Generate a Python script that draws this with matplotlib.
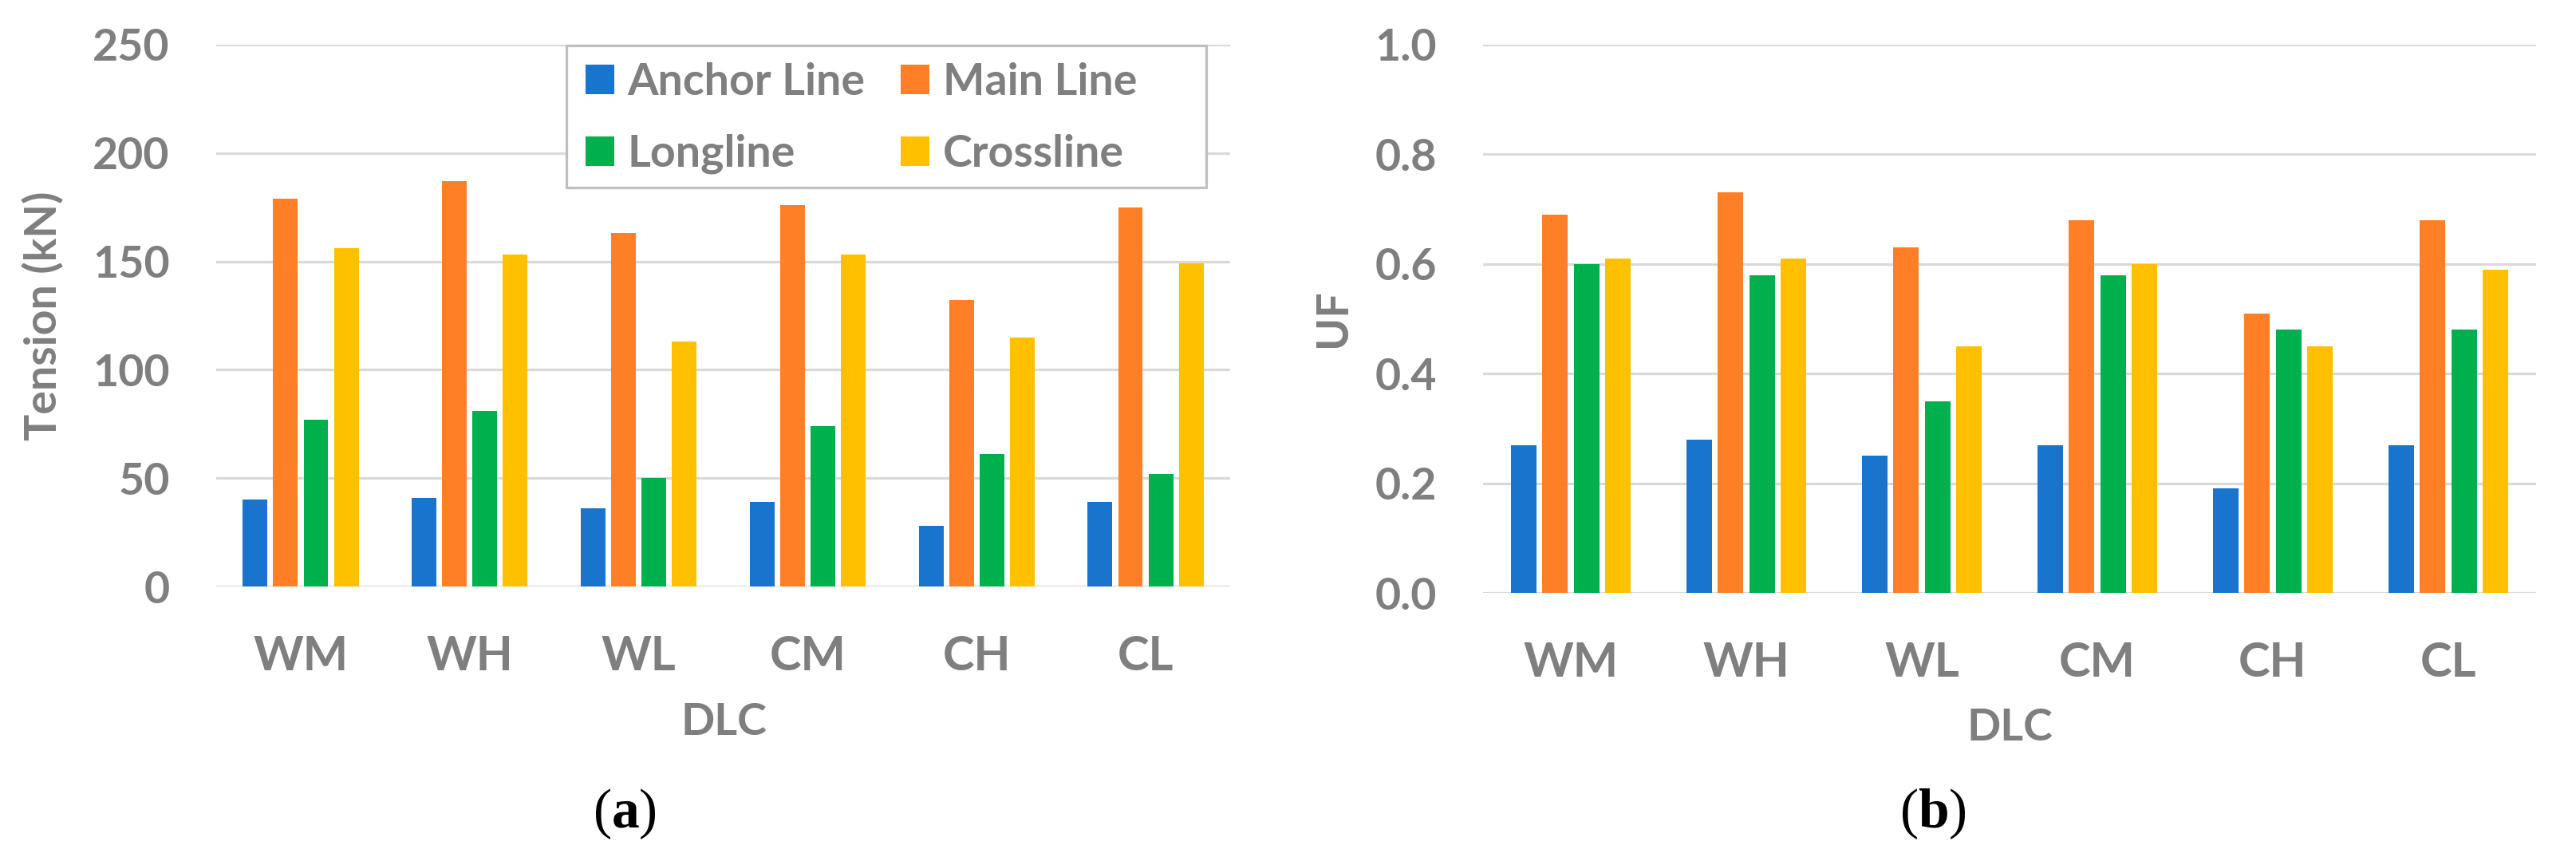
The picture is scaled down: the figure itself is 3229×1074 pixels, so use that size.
import numpy as np
import matplotlib
matplotlib.use("Agg")
import matplotlib.pyplot as plt
from matplotlib.patches import Rectangle

plt.rcParams['font.family'] = ['Lato', 'DejaVu Sans']
plt.rcParams['mathtext.fontset'] = 'custom'
plt.rcParams['mathtext.rm'] = 'Liberation Serif'
plt.rcParams['mathtext.bf'] = 'Liberation Serif:bold'

dlc = ["WM", "WH", "WL", "CM", "CH", "CL"]
series = ["Anchor Line", "Main Line", "Longline", "Crossline"]
colors = ["#1874CD", "#FF7F27", "#00B04C", "#FFC000"]

# tension (kN)
anchor_t = [40, 41, 36, 39, 28, 39]
main_t = [179, 187, 163, 176, 132, 175]
long_t = [77, 81, 50, 74, 61, 52]
cross_t = [156, 153, 113, 153, 115, 149]

# utilisation factor
anchor_uf = [0.27, 0.28, 0.25, 0.27, 0.19, 0.27]
main_uf = [0.69, 0.73, 0.63, 0.68, 0.51, 0.68]
long_uf = [0.60, 0.58, 0.35, 0.58, 0.48, 0.48]
cross_uf = [0.61, 0.61, 0.45, 0.60, 0.45, 0.59]

gray = "#7f7f7f"
W, H = 3230, 1074
fig = plt.figure(figsize=(W / 100, H / 100), dpi=100)

def box(x0, x1, y0, y1):
    return [x0 / W, 1 - y1 / H, (x1 - x0) / W, (y1 - y0) / H]

ax1 = fig.add_axes(box(271, 1542, 56, 735))
ax2 = fig.add_axes(box(1859, 3179, 56, 743))

x = np.arange(len(dlc))
step = 0.18
width = 0.146

def draw(ax, data, ymax, yticks, fmt):
    bars = []
    for i, (vals, c, name) in enumerate(zip(data, colors, series)):
        bars.append(ax.bar(x + (i - 1.5) * step, vals, width, color=c, label=name, zorder=3))
    ax.set_xlim(-0.5, len(dlc) - 0.5)
    ax.set_ylim(0, ymax)
    ax.set_yticks(yticks)
    ax.set_yticklabels([fmt.format(v) for v in yticks])
    ax.set_xticks(x)
    ax.set_xticklabels(dlc)
    for s in ax.spines.values():
        s.set_visible(False)
    ax.grid(axis='y', color='#d9d9d9', linewidth=2.3, zorder=0)
    ax.tick_params(axis='y', length=0, pad=42, labelsize=40, labelcolor=gray)
    ax.tick_params(axis='x', length=0, pad=44, labelsize=43, labelcolor=gray)
    for lab in ax.get_xticklabels() + ax.get_yticklabels():
        lab.set_fontweight('bold')
    return bars

bars = draw(ax1, [anchor_t, main_t, long_t, cross_t], 250, [0, 50, 100, 150, 200, 250], "{:.0f}")
draw(ax2, [anchor_uf, main_uf, long_uf, cross_uf], 1.0, [0, 0.2, 0.4, 0.6, 0.8, 1.0], "{:.1f}")

fig.text(54 / W, 1 - 396 / H, "Tension (kN)", rotation=90, ha='center', va='center',
         fontsize=40, fontweight='bold', color=gray)
fig.text(1671 / W, 1 - 399 / H, "UF", rotation=90, ha='center', va='center',
         fontsize=40, fontweight='bold', color=gray)
fig.text(907 / W, 1 - 905 / H, "DLC", ha='center', va='center',
         fontsize=40, fontweight='bold', color=gray)
fig.text(2519 / W, 1 - 912 / H, "DLC", ha='center', va='center',
         fontsize=40, fontweight='bold', color=gray)
fig.text(783 / W, 1 - 1020 / H, r"($\mathbf{a}$)", ha='center', va='center',
         fontsize=50, family='Liberation Serif', color='black')
fig.text(2423 / W, 1 - 1020 / H, r"($\mathbf{b}$)", ha='center', va='center',
         fontsize=50, family='Liberation Serif', color='black')

# legend box drawn separately (Excel style, extra room on the right)
ax1.add_patch(Rectangle((710 / W, 1 - 235 / H), 802 / W, 178 / H, transform=fig.transFigure,
                        facecolor='white', edgecolor='#bfbfbf', linewidth=2.3,
                        zorder=5, clip_on=False))
order = [0, 2, 1, 3]
leg = ax1.legend([bars[i] for i in order], [series[i] for i in order], ncol=2,
                 loc='upper left', bbox_to_anchor=(734 / W, 1 - 78 / H),
                 bbox_transform=fig.transFigure, fontsize=40, frameon=False,
                 borderpad=0, handlelength=0.65, handleheight=0.63, handletextpad=0.3,
                 columnspacing=0.8, labelspacing=0.72, borderaxespad=0)
leg.set_zorder(6)
for t in leg.get_texts():
    t.set_color(gray)
    t.set_fontweight('bold')

fig.savefig("out.png", dpi=100, facecolor='white')
